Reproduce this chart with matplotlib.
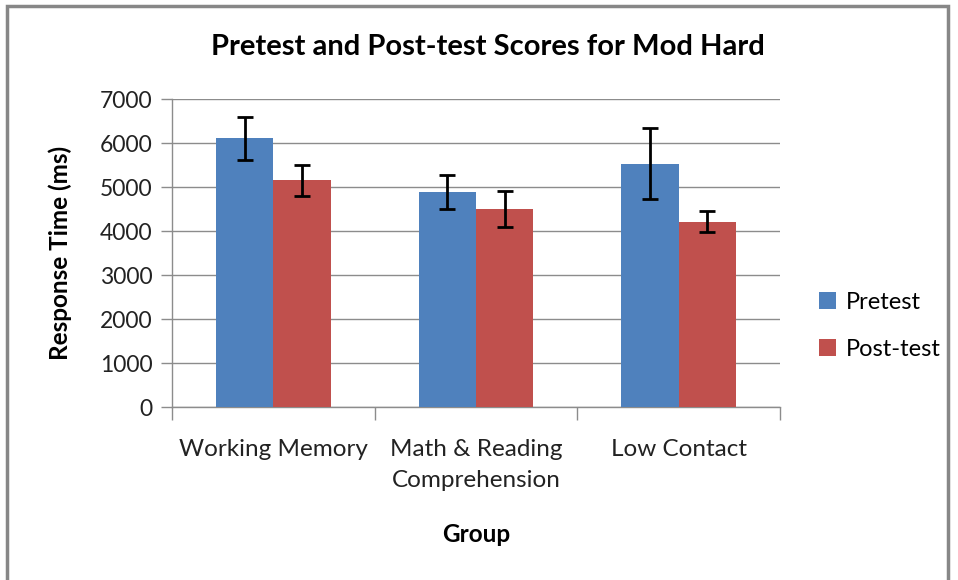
import matplotlib
matplotlib.use("Agg")
import matplotlib.pyplot as plt
from matplotlib.patches import Rectangle
import numpy as np

categories = ["Working Memory", "Math & Reading\nComprehension", "Low Contact"]
pretest = [6110, 4880, 5530]
pretest_err = [485, 385, 800]
posttest = [5150, 4505, 4210]
posttest_err = [355, 415, 240]
yticks = [0, 1000, 2000, 3000, 4000, 5000, 6000, 7000]

plt.rcParams['font.family'] = ['Lato', 'DejaVu Sans']

W, H = 958, 580
fig = plt.figure(figsize=(W/100, H/100), dpi=100)

# outer chart border
fig.patches.append(Rectangle((7/W, -0.05), (948-7)/W, (H-6)/H + 0.05,
                             transform=fig.transFigure, fill=False,
                             edgecolor='#878787', linewidth=2.5))

ax_l, ax_r, ax_t, ax_b = 172, 780, 99, 407
ax = fig.add_axes([ax_l/W, 1-ax_b/H, (ax_r-ax_l)/W, (ax_b-ax_t)/H])

x = np.arange(len(categories))
bw = 0.283
blue = '#4F81BD'
red = '#C0504D'
ekw = dict(ecolor='black', elinewidth=2, capsize=5.5, capthick=2)
ax.bar(x - bw/2, pretest, bw, color=blue, label='Pretest', zorder=3,
       yerr=pretest_err, error_kw=ekw)
ax.bar(x + bw/2, posttest, bw, color=red, label='Post-test', zorder=3,
       yerr=posttest_err, error_kw=ekw)

ax.set_ylim(0, 7000)
ax.set_xlim(-0.5, len(categories) - 0.5)
ax.set_yticks(yticks)
ax.set_yticklabels([str(v) for v in yticks], fontsize=16.5, color='#222222')
ax.yaxis.grid(True, color='#8c8c8c', linewidth=1, zorder=0)
ax.set_axisbelow(True)

ax.set_xticks(x)
ax.set_xticklabels(categories, fontsize=17.5, color='#222222', linespacing=1.6)
ax.tick_params(axis='x', which='major', length=0, pad=23)
ax.set_xticks(np.arange(len(categories) + 1) - 0.5, minor=True)
ax.tick_params(axis='x', which='minor', length=9, color='#8c8c8c', width=1)
ax.tick_params(axis='y', length=8, color='#8c8c8c', width=1, pad=6)

for s in ['top', 'right']:
    ax.spines[s].set_visible(False)
for s in ['left', 'bottom']:
    ax.spines[s].set_color('#8c8c8c')
    ax.spines[s].set_linewidth(1)

fig.text(488/W, 1-47/H, "Pretest and Post-test Scores for Mod Hard",
         fontsize=21, fontweight='bold', ha='center', va='center')
fig.text(476/W, 1-535/H, "Group", fontsize=17.5, fontweight='bold',
         ha='center', va='center')
fig.text(60/W, 1-253/H, "Response Time (ms)", fontsize=17.5, fontweight='bold',
         ha='center', va='center', rotation=90)

leg = ax.legend(loc='center left', bbox_to_anchor=(819/W, 1-326/H),
                bbox_transform=fig.transFigure, frameon=False, fontsize=17,
                handlelength=0.7, handleheight=0.7, handletextpad=0.45,
                labelspacing=1.1, borderpad=0, borderaxespad=0)

fig.savefig("out.png", dpi=100)
